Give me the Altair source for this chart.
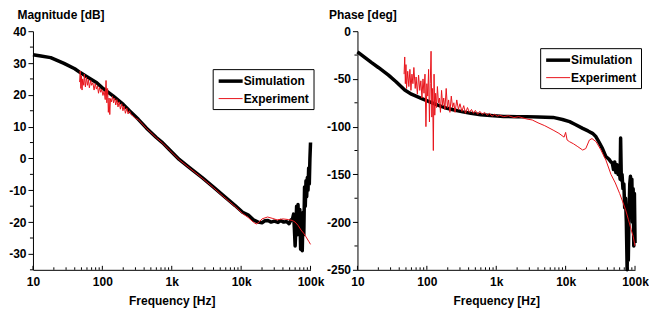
import altair as alt
import pandas as pd

SERIES = ["Simulation", "Experiment"]
COLORS = ["#000000", "#e8141b"]
WIDTHS = [3.5, 1.0]
FREQ_TICKS = [10, 100, 1000, 10000, 100000]
FREQ_MINOR = [20, 30, 40, 50, 60, 70, 80, 90, 200, 300, 400, 500, 600, 700, 800, 900,
              2000, 3000, 4000, 5000, 6000, 7000, 8000, 9000, 20000, 30000, 40000, 50000, 60000, 70000, 80000, 90000]
MAG_TICKS = [-30, -20, -10, 0, 10, 20, 30, 40]
MAG_MINOR = [-35, -25, -15, -5, 5, 15, 25, 35]
PHASE_TICKS = [-250, -200, -150, -100, -50, 0]
PHASE_MINOR = [-225, -175, -125, -75, -25]

mag_sim_f = [10, 13, 18, 28, 40, 48, 60, 83, 100, 144, 200, 248, 330, 430, 600, 741, 920, 1280, 1800, 2750,
             4000, 5500, 8200, 10500, 12700, 15000, 17600, 20000, 22000, 24400, 27000, 30000, 34000, 37000,
             41000, 45000, 49000, 52000, 55000, 57000, 58500, 60000, 61500, 63000, 64500, 66000, 68000, 70000,
             72000, 74000, 76000, 78000, 80000, 82000, 84000, 86000, 88000, 90000, 92000, 94000, 96000, 98000,
             100000]
mag_sim_v = [32.6, 32.2, 31.7, 29.9, 28.2, 27.0, 25.7, 23.8, 22.2, 19.6, 17.0, 14.9, 12.3, 9.6, 6.6, 4.9, 2.8,
             -0.3, -2.9, -6.0, -9.0, -11.6, -14.8, -16.9, -17.8, -19.3, -20.0, -20.2, -19.6, -19.5, -20.0, -19.7,
             -20.1, -19.5, -20.0, -19.8, -20.5, -19.4, -19.0, -17.5, -22.0, -27.5, -22.0, -15.0, -24.0, -14.5,
             -22.0, -16.0, -28.5, -20.0, -29.0, -17.0, -24.0, -9.0, -15.0, -7.0, -12.0, -6.0, -10.0, -3.0, -8.0,
             0.0, 5.0]

mag_exp_f = [47, 48, 49, 50, 51, 52, 54, 55, 57, 59, 61, 63, 65, 68, 70, 73, 76, 79, 82, 85, 88, 91, 95, 98,
             102, 106, 110, 113, 116, 119, 122, 125, 128, 131, 135, 140, 145, 150, 156, 162, 168, 175, 182, 190,
             198, 206, 215, 225, 235, 245, 260, 280, 300, 330, 430, 600, 741, 920, 1280, 1800, 2750, 4000, 5500,
             8200, 10500, 12700, 15000, 16500, 18000, 20000, 24000, 28000, 33000, 40000, 48000, 55000, 60000,
             66000, 73000, 81000, 88000, 94000, 100000]
mag_exp_v = [24.0, 27.5, 22.0, 26.0, 21.5, 25.0, 23.0, 26.5, 22.5, 25.5, 23.0, 24.8, 22.2, 24.5, 23.0, 23.8,
             21.5, 23.5, 21.8, 22.8, 20.5, 22.3, 20.8, 21.8, 19.8, 21.2, 18.5, 24.5, 17.5, 22.0, 14.5, 19.0, 13.8,
             18.8, 17.8, 19.5, 17.5, 19.0, 16.8, 18.5, 16.2, 17.8, 15.5, 17.2, 15.0, 16.5, 14.2, 15.8, 14.0, 15.0,
             13.8, 13.3, 12.6, 12.2, 9.5, 6.5, 4.8, 2.7, -0.4, -3.0, -6.2, -9.2, -11.9, -15.1, -17.3, -18.6,
             -20.0, -20.6, -20.1, -19.0, -18.4, -18.8, -19.3, -19.0, -19.2, -19.5, -20.0, -21.0, -22.5, -23.7,
             -25.0, -26.0, -27.0]

ph_sim_f = [10, 13, 16, 20, 28, 36, 48, 60, 83, 110, 144, 190, 248, 330, 430, 600, 920, 1280, 2000, 2750,
            4000, 6600, 9000, 11400, 14000, 17600, 21000, 24400, 27000, 30000, 34000, 38000, 42000, 45000, 47000,
            49000, 51000, 53000, 55000, 57000, 59000, 61000, 62000, 63500, 65000, 67000, 69000, 71000, 73000,
            75000, 77000, 78500, 80000, 82000, 84000, 86000, 88000, 90000, 92000, 94000, 96000, 98000, 100000]
ph_sim_v = [-21.6, -28, -33, -38, -46, -53, -61.7, -66, -70.4, -74, -77.4, -80.5, -82.6, -84.5, -86, -87.5,
            -88.5, -89.3, -89.6, -89.5, -89.8, -90.3, -92.5, -94.8, -98, -101.8, -104.5, -107, -110, -115.8,
            -123, -131.5, -134, -137, -138, -145, -137, -148, -140, -150, -145, -155, -112, -156, -150, -165,
            -160, -185, -175, -200, -250, -200, -240, -190, -160, -152, -175, -155, -200, -165, -225, -170, -222]

ph_exp_f = [47, 48, 49, 50, 51, 53, 55, 57, 59, 61, 63, 65, 68, 70, 73, 76, 79, 82, 85, 88, 91, 94, 97, 100,
            103, 106, 109, 112, 115, 118, 121, 124, 127, 130, 134, 138, 142, 147, 152, 157, 163, 169, 175, 182,
            190, 198, 206, 215, 225, 235, 245, 255, 270, 285, 300, 320, 340, 360, 385, 410, 440, 470, 500, 540,
            580, 630, 680, 740, 800, 870, 950, 1030, 1120, 1280, 1500, 1800, 2100, 2750, 3300, 4000, 5000, 6600,
            8000, 9500, 10000, 10500, 11400, 13000, 15000, 17600, 19500, 22000, 24000, 27500, 32000, 38000,
            45000, 52000, 60000, 66000, 73000, 80000, 88000, 94000, 100000]
ph_exp_v = [-45, -27, -55, -35, -60, -42, -58, -40, -62, -45, -55, -38, -60, -48, -66, -46, -62, -52, -70, -50,
            -65, -45, -100, -55, -68, -40, -95, -55, -21, -90, -60, -125, -45, -88, -65, -80, -58, -75, -70, -85,
            -62, -78, -70, -82, -60, -80, -72, -85, -68, -80, -75, -85, -72, -82, -76, -84, -78, -86, -80, -85,
            -82, -86, -83, -87, -84, -87, -85, -88, -86, -89, -87, -89, -88, -89.5, -88.5, -90.5, -89.5, -92,
            -93, -96, -99, -103.6, -107, -111, -106, -114, -115.8, -118, -121, -124.5, -123, -114, -112.5,
            -115.8, -124, -135, -150, -159, -170, -178, -187, -197, -208, -215, -225]

FONT = "Liberation Sans"
PANEL_W = 278
PANEL_H = 239


def frame(sim_f, sim_v, exp_f, exp_v):
    a = pd.DataFrame({"f": sim_f, "v": sim_v, "series": SERIES[0]})
    b = pd.DataFrame({"f": exp_f, "v": exp_v, "series": SERIES[1]})
    return pd.concat([a, b], ignore_index=True)


def panel(df, ydom, yvals, yminor, ytitle, title_x, leg_x, leg_y):
    legend = alt.Legend(
        orient="none", legendX=leg_x, legendY=leg_y, title=None,
        strokeColor="black", fillColor="white", padding=4, cornerRadius=0,
        labelFont=FONT, labelFontSize=12, labelFontWeight="bold", labelColor="black",
        symbolType="M-1,0H3", symbolSize=144, labelOffset=11, rowPadding=4,
    )
    xaxis = alt.Axis(
        values=FREQ_TICKS,
        labelExpr="datum.value >= 1000 ? (datum.value / 1000) + 'k' : '' + datum.value",
        title="Frequency [Hz]", titleY=35, titleBaseline="alphabetic",
        ticks=False, tickSize=0, labelPadding=7, labelFlush=False,
    )
    yaxis = alt.Axis(
        values=yvals, labelExpr="'' + datum.value",
        title=ytitle, titleAngle=0, titleAlign="left",
        titleBaseline="alphabetic", titleX=title_x, titleY=-13,
        tickSize=5, labelPadding=2,
    )
    xs = alt.Scale(type="log", domain=[10, 100000])
    ys = alt.Scale(domain=ydom, nice=False, zero=False)
    enc = dict(
        x=alt.X("f:Q", scale=xs, axis=xaxis),
        y=alt.Y("v:Q", scale=ys, axis=yaxis),
        color=alt.Color("series:N", scale=alt.Scale(domain=SERIES, range=COLORS), legend=legend),
        strokeWidth=alt.StrokeWidth("series:N", scale=alt.Scale(domain=SERIES, range=WIDTHS), legend=legend),
    )
    base = alt.Chart(df)
    sim = base.transform_filter(alt.datum.series == SERIES[0]).mark_line(strokeJoin="round").encode(**enc)
    exp = base.transform_filter(alt.datum.series == SERIES[1]).mark_line(strokeJoin="round").encode(**enc)

    xmaj = alt.Chart(pd.DataFrame({"f": FREQ_TICKS})).mark_rule(color="black", strokeWidth=1).encode(
        x=alt.X("f:Q", scale=xs, axis=xaxis), y=alt.value(PANEL_H), y2=alt.value(PANEL_H - 4))
    xmin = alt.Chart(pd.DataFrame({"f": FREQ_MINOR})).mark_rule(color="black", strokeWidth=1).encode(
        x=alt.X("f:Q", scale=xs, axis=xaxis), y=alt.value(PANEL_H), y2=alt.value(PANEL_H - 2.5))
    ymin = alt.Chart(pd.DataFrame({"v": yminor})).mark_rule(color="black", strokeWidth=1).encode(
        y=alt.Y("v:Q", scale=ys, axis=yaxis), x=alt.value(-3), x2=alt.value(0))
    return alt.layer(xmaj, xmin, ymin, sim, exp).properties(width=PANEL_W, height=PANEL_H)


mag = panel(frame(mag_sim_f, mag_sim_v, mag_exp_f, mag_exp_v), [-35, 40], MAG_TICKS, MAG_MINOR,
            "Magnitude [dB]", -16, 180, 38)
pha = panel(frame(ph_sim_f, ph_sim_v, ph_exp_f, ph_exp_v), [-250, 0], PHASE_TICKS, PHASE_MINOR,
            "Phase [deg]", -29, 183, 17)

chart = (
    alt.hconcat(mag, pha, spacing=47, bounds="flush")
    .resolve_scale(color="independent", strokeWidth="independent")
    .resolve_legend(color="independent", strokeWidth="independent")
    .properties(padding={"left": 0, "top": 0, "right": 0, "bottom": 1}, background="white")
    .configure_view(stroke=None)
    .configure_axis(
        grid=False, domainColor="black", tickColor="black", labelColor="black", titleColor="black",
        labelFont=FONT, titleFont=FONT, labelFontSize=12, titleFontSize=12,
        labelFontWeight="bold", titleFontWeight="bold", domainWidth=1, tickWidth=1,
    )
)

chart.save("out.html", embed_options={"renderer": "svg", "actions": False})
